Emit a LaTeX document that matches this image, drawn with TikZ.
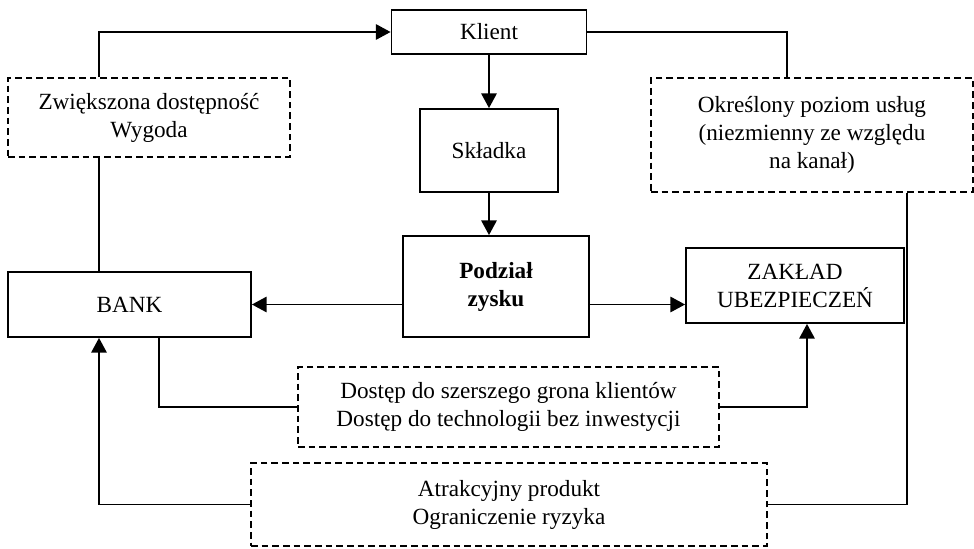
\documentclass[tikz,border=0pt]{standalone}
\usepackage{fontspec}
\setmainfont{Liberation Serif}
\usetikzlibrary{arrows.meta}

\begin{document}
\begin{tikzpicture}[x=0.75pt, y=-0.75pt, >={Triangle[length=11pt, width=11.5pt]},
		box/.style={draw, line width=1.35pt, align=center, inner sep=0pt,
			font=\fontsize{17.4}{21}\selectfont},
		dashbox/.style={box, dash pattern=on 5pt off 3pt},
		line/.style={line width=1.35pt}]
			\useasboundingbox (0,0) rectangle (974,549);

			% Bloki główne
			\node[box, minimum width=146.25pt, minimum height=33pt] (klient) at (489,32) {Klient};
			\node[box, minimum width=103.5pt, minimum height=62.25pt] (skladka) at (489,150.5) {Składka};
			\node[box, minimum width=139.5pt, minimum height=75.75pt] (podzial) at (496,286.5) {\bfseries Podział\\ \bfseries zysku};
			\node[box, minimum width=182.25pt, minimum height=48.75pt] (bank) at (129.5,304.5) {BANK};
			\node[box, minimum width=163.5pt, minimum height=56.25pt] (zaklad) at (795,285.5) {ZAKŁAD\\UBEZPIECZEŃ};

			% Bloki przerywane (korzyści)
			\node[dashbox, minimum width=211.5pt, minimum height=59.25pt] (zwieksz) at (149,117.5) {Zwiększona dostępność\\Wygoda};
			\node[dashbox, minimum width=241.5pt, minimum height=85.5pt] (okresl) at (812,135) {Określony poziom usług\\(niezmienny ze względu\\na kanał)};
			\node[dashbox, minimum width=315.75pt, minimum height=60pt] (dostep) at (508.5,407) {Dostęp do szerszego grona klientów\\Dostęp do technologii bez inwestycji};
			\node[dashbox, minimum width=387pt, minimum height=62.25pt] (atrakc) at (509,504.5) {Atrakcyjny produkt\\Ograniczenie ryzyka};

			% Osie pionowych połączeń
			\coordinate (oszL) at (99,0);
			\coordinate (oszKO) at (787,0);
			\coordinate (oszOA) at (907,0);
			\coordinate (oszBD) at (159,0);
			\coordinate (oszDZ) at (807,0);

			% Przepływ składki i podział zysku
			\draw[->, line] (klient) -- (skladka);
			\draw[->, line] (skladka) -- (podzial.north -| skladka);
			\draw[->, line] (podzial.west |- bank.east) -- (bank.east);
			\draw[->, line] (podzial.east |- bank.east) -- (zaklad.west |- bank.east);

			% Korzyści klienta
			\draw[line] (bank.north -| oszL) -- (zwieksz.south -| oszL);
			\draw[->, line] (zwieksz.north -| oszL) |- (klient.west);
			\draw[line] (klient.east) -| (okresl.north -| oszKO);

			% Korzyści banku i zakładu
			\draw[line] (bank.south -| oszBD) |- (dostep.west);
			\draw[->, line] (dostep.east) -| (zaklad.south -| oszDZ);
			\draw[line] (okresl.south -| oszOA) |- (atrakc.east);
			\draw[->, line] (atrakc.west) -| (bank.south -| oszL);
		\end{tikzpicture}
\end{document}
